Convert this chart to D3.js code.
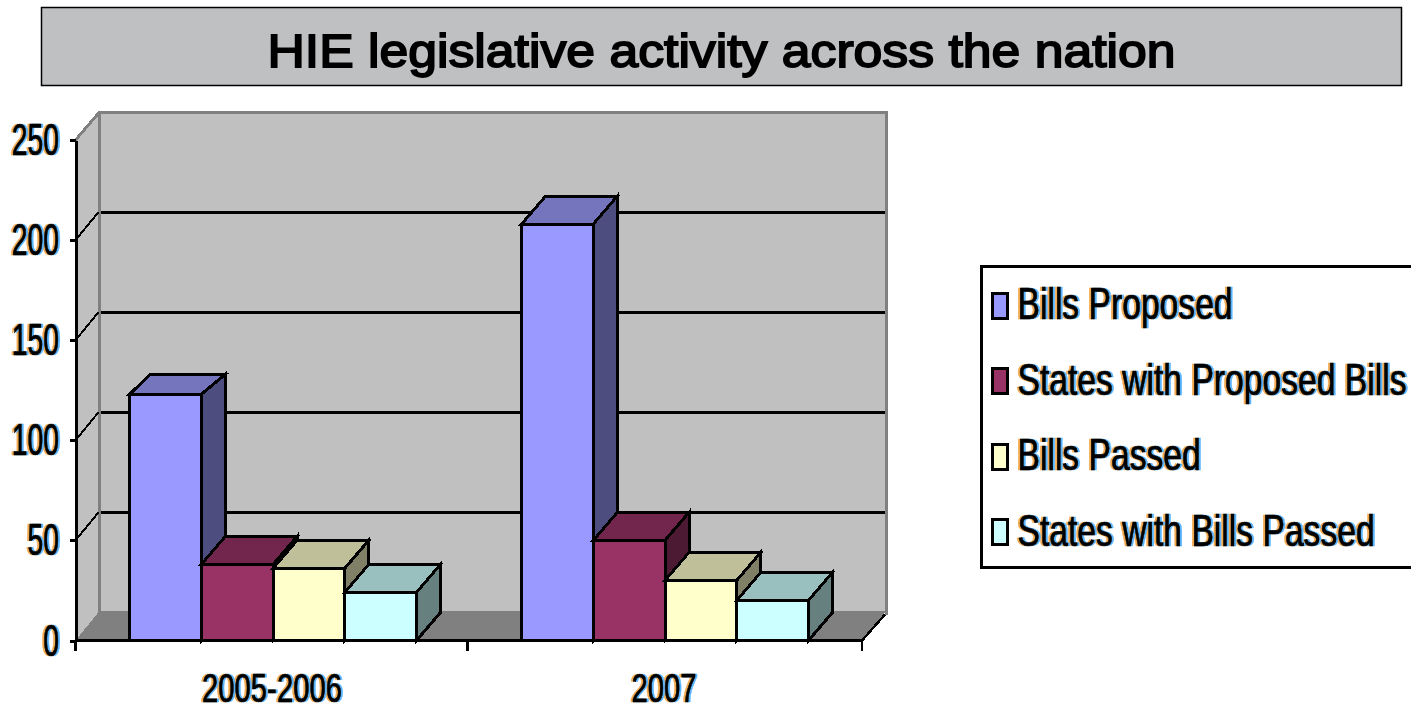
<!DOCTYPE html>
<html>
<head>
<meta charset="utf-8">
<script src="https://cdn.jsdelivr.net/npm/d3@7/dist/d3.min.js"></script>
<style>
  html, body { margin: 0; padding: 0; background: #fff; overflow: hidden; }
  svg { display: block; }
  .crisp { shape-rendering: crispEdges; }
  .small-text { font-family: "Liberation Sans", Arial, sans-serif; fill: #000; stroke: #000; stroke-width: 0.7px; }
</style>
</head>
<body>
<svg id="chart" width="1411" height="711"></svg>
<script>
const titleText = "HIE legislative activity across the nation";
const periods = ["2005-2006", "2007"];
const seriesNames = ["Bills Proposed", "States with Proposed Bills", "Bills Passed", "States with Bills Passed"];
const billsProposed = [123, 208];
const statesWithProposedBills = [38, 50];
const billsPassed = [36, 30];
const statesWithBillsPassed = [24, 20];
const yTickValues = [0, 50, 100, 150, 200, 250];

const seriesValues = [billsProposed, statesWithProposedBills, billsPassed, statesWithBillsPassed];
const frontColors = ["#9999ff", "#993366", "#ffffcc", "#ccffff"];
const topColors = ["#7575bd", "#73264d", "#bfbf99", "#99bfbf"];
const sideColors = ["#4d4d80", "#4d1a33", "#808066", "#668080"];

// Oblique projection offset used for the 3-D box look
const depthX = 24, depthY = -28;
const plotLeft = 75.5, plotRight = 862;

const svg = d3.select("#chart");

// Colour fringes around the small axis and legend text
const fringe = svg.append("defs").append("filter")
  .attr("id", "fringe").attr("x", "-5%").attr("y", "-5%").attr("width", "110%").attr("height", "110%")
  .attr("color-interpolation-filters", "sRGB");
fringe.append("feFlood").attr("flood-color", "#f2a94f").attr("result", "warm");
fringe.append("feOffset").attr("in", "SourceAlpha").attr("dx", -2.4).attr("result", "leftA");
fringe.append("feComposite").attr("in", "warm").attr("in2", "leftA").attr("operator", "in").attr("result", "leftC");
fringe.append("feFlood").attr("flood-color", "#58b4ff").attr("result", "cool");
fringe.append("feOffset").attr("in", "SourceAlpha").attr("dx", 2.4).attr("result", "rightA");
fringe.append("feComposite").attr("in", "cool").attr("in2", "rightA").attr("operator", "in").attr("result", "rightC");
const merge = fringe.append("feMerge");
merge.append("feMergeNode").attr("in", "leftC");
merge.append("feMergeNode").attr("in", "rightC");
merge.append("feMergeNode").attr("in", "SourceGraphic");

// Title band
svg.append("rect").attr("x", 41.5).attr("y", 7.5).attr("width", 1360).attr("height", 78)
  .attr("fill", "#bfc0c2").attr("stroke", "#000").attr("stroke-width", 1.5);
svg.append("text").text(titleText)
  .attr("x", 721.5).attr("y", 67).attr("text-anchor", "middle")
  .attr("font-family", "'Liberation Sans', Arial, sans-serif").attr("font-size", 47)
  .attr("textLength", 908).attr("lengthAdjust", "spacingAndGlyphs")
  .attr("fill", "#000").attr("stroke", "#000").attr("stroke-width", 1.8);

// Scales
const y = d3.scaleLinear().domain([0, 250]).range([640.5, 140]);
const x0 = d3.scaleBand().domain(periods).range([77, 861]);
const x1 = d3.scaleBand().domain(d3.range(seriesNames.length)).range([0, x0.bandwidth()]).paddingOuter(0.7336).paddingInner(0);

const plot = svg.append("g").attr("class", "crisp");
const xL = plotLeft, xR = plotRight;
const yBase = y(0), yTop = y(250);

// Side wall, floor, back wall
plot.append("polygon").attr("fill", "#c0c0c0")
  .attr("points", [[xL, yBase], [xL, yTop], [xL + depthX, yTop + depthY], [xL + depthX, yBase + depthY]].join(" "));
plot.append("rect").attr("x", xL + depthX).attr("y", yTop + depthY)
  .attr("width", xR - xL).attr("height", yBase - yTop).attr("fill", "#c0c0c0");
plot.append("polygon").attr("fill", "#808080")
  .attr("points", [[xL, yBase], [xL + depthX, yBase + depthY - 1.5], [xR + depthX, yBase + depthY - 1.5], [xR, yBase]].join(" "));

// Wall outlines
plot.append("path").attr("fill", "none").attr("stroke", "#808080").attr("stroke-width", 3)
  .attr("d", d3.line()([[xL, yTop], [xL + depthX, yTop + depthY], [xR + depthX, yTop + depthY], [xR + depthX, yBase + depthY + 2]]));
plot.append("line").attr("x1", xL + depthX).attr("x2", xL + depthX)
  .attr("y1", yTop + depthY).attr("y2", yBase + depthY + 2)
  .attr("stroke", "#808080").attr("stroke-width", 3);

// Gridlines on the back wall and their continuation on the side wall
const grid = yTickValues.filter(v => v > 0 && v < 250);
plot.selectAll("line.grid").data(grid).join("line").attr("class", "grid")
  .attr("x1", xL + depthX + 1.5).attr("x2", xR + depthX - 1.5)
  .attr("y1", d => y(d) + depthY).attr("y2", d => y(d) + depthY)
  .attr("stroke", "#000").attr("stroke-width", 3);
plot.selectAll("line.grid-side").data(grid).join("line").attr("class", "grid-side")
  .attr("x1", xL).attr("x2", xL + depthX - 1)
  .attr("y1", d => y(d)).attr("y2", d => y(d) + depthY)
  .attr("stroke", "#000").attr("stroke-width", 2);

// Right end of the floor edge
plot.append("line").attr("x1", xR).attr("x2", xR + depthX - 1)
  .attr("y1", yBase).attr("y2", yBase + depthY + 2)
  .attr("stroke", "#000").attr("stroke-width", 2.5);

// Boxes, drawn left to right so each overlaps its neighbour's side face
periods.forEach((period, p) => {
  seriesNames.forEach((name, s) => {
    const g = plot.append("g").attr("class", "box");
    const l = x0(period) + x1(s), r = l + x1.bandwidth();
    const t = y(seriesValues[s][p]), b = y(0);
    // The tallest box of the first period has a shallower top face
    const shallow = p === 0 && s === 0;
    const rise = shallow ? -20 : depthY;
    const backLeft = l + (shallow ? 21 : depthX);
    const face = (pts, fill) => g.append("polygon").attr("points", pts.join(" ")).attr("fill", fill)
      .attr("stroke", "#000").attr("stroke-width", 3).attr("stroke-linejoin", "miter");
    face([[r, b], [r, t], [r + depthX, t + rise], [r + depthX, b + depthY]], sideColors[s]);
    face([[l, t], [backLeft, t + rise], [r + depthX, t + rise], [r, t]], topColors[s]);
    face([[l, b], [l, t], [r, t], [r, b]], frontColors[s]);
  });
});

// Axes
const styleAxis = g => {
  g.selectAll("path.domain").attr("stroke", "#000").attr("stroke-width", 3).attr("class", "domain crisp");
  g.selectAll(".tick line").attr("stroke", "#000").attr("stroke-width", 3).attr("class", "crisp");
  g.selectAll("text").attr("class", "small-text").attr("font-family", null)
    .attr("filter", "url(#fringe)");
};

const yAxisG = svg.append("g").attr("transform", `translate(${xL},0)`)
  .call(d3.axisLeft(y).tickValues(yTickValues).tickSize(6).tickSizeOuter(0).tickFormat(d3.format("d")));
styleAxis(yAxisG);
yAxisG.attr("font-size", null);
yAxisG.selectAll("text").attr("x", null).attr("dy", null).attr("text-anchor", "end")
  .style("font-size", "44px")
  .attr("transform", "translate(-16.5,14.5) scale(0.645,1)");

const xAxisG = svg.append("g").attr("transform", `translate(0,${yBase})`)
  .call(d3.axisBottom(x0).tickSize(0).tickSizeOuter(0));
styleAxis(xAxisG);
xAxisG.attr("font-size", null);
xAxisG.select("path.domain").remove();
xAxisG.selectAll("text").attr("y", null).attr("dy", null).attr("text-anchor", "middle")
  .style("font-size", "41px")
  .attr("transform", "translate(-1,61.5) scale(0.715,1)");

// Category axis line with separator ticks at the band edges
const axisLine = svg.append("g").attr("class", "crisp");
axisLine.append("line").attr("x1", xL).attr("x2", xR).attr("y1", yBase).attr("y2", yBase)
  .attr("stroke", "#000").attr("stroke-width", 3);
axisLine.selectAll("line.edge").data([xL, x0(periods[1]) - 1.5, xR]).join("line").attr("class", "edge")
  .attr("x1", d => d).attr("x2", d => d).attr("y1", yBase).attr("y2", yBase + 10.5)
  .attr("stroke", "#000").attr("stroke-width", 2.5);

// Legend
const legend = svg.append("g");
legend.append("rect").attr("class", "crisp").attr("x", 981.5).attr("y", 266.5)
  .attr("width", 470).attr("height", 301)
  .attr("fill", "#fff").attr("stroke", "#000").attr("stroke-width", 3);
const legendY = d3.scalePoint().domain(seriesNames).range([319.3, 545.7]);
const rows = legend.selectAll("g.row").data(seriesNames).join("g").attr("class", "row")
  .attr("transform", d => `translate(0,${legendY(d)})`);
rows.append("rect").attr("class", "crisp").attr("x", 992.5).attr("y", -26).attr("width", 15).attr("height", 25)
  .attr("fill", (d, i) => frontColors[i]).attr("stroke", "#000").attr("stroke-width", 3);
rows.append("text").attr("class", "small-text").text(d => d)
  .style("font-size", "44px")
  .attr("transform", "translate(1017.5,0) scale(0.765,1)")
  .attr("filter", "url(#fringe)");
</script>
</body>
</html>
